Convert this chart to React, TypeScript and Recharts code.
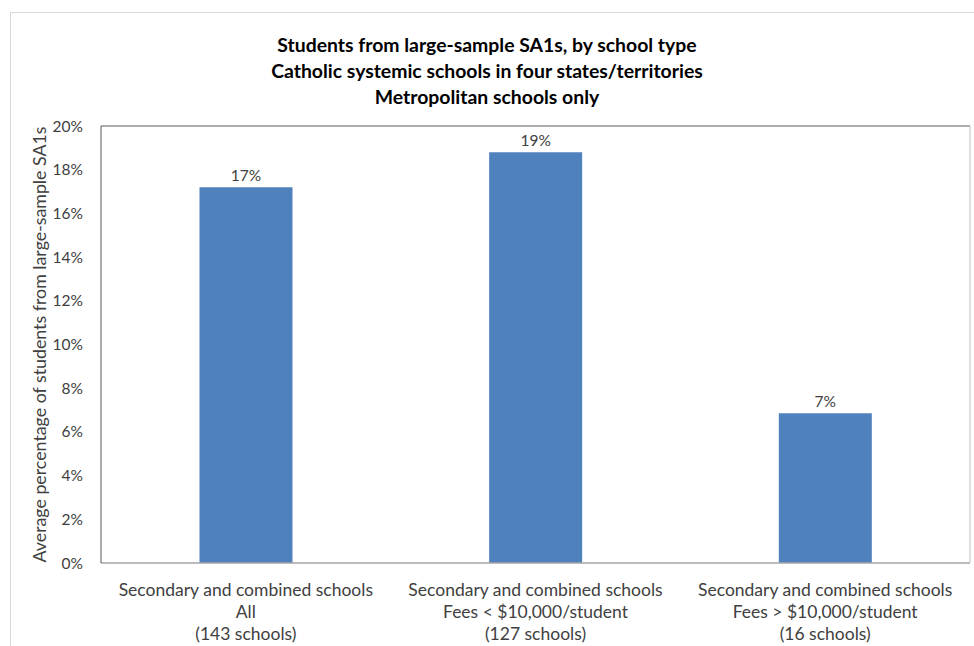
import { BarChart, Bar, XAxis, YAxis, LabelList, ReferenceLine } from 'recharts'

const titleLines = [
  'Students from large-sample SA1s, by school type',
  'Catholic systemic schools in four states/territories',
  'Metropolitan schools only',
]

const categories = [
  'Secondary and combined schools\nAll\n(143 schools)',
  'Secondary and combined schools\nFees < $10,000/student\n(127 schools)',
  'Secondary and combined schools\nFees > $10,000/student\n(16 schools)',
]

const shares = [17.2, 18.8, 6.85]

const yTicks = [0, 2, 4, 6, 8, 10, 12, 14, 16, 18, 20]

const yLabel = 'Average percentage of students from large-sample SA1s'

const data = categories.map((name, i) => ({ name, share: shares[i] }))

const FONT = 'Lato, "Open Sans", sans-serif'

function CategoryTick({ x, y, payload }: { x?: number; y?: number; payload?: { value: string } }) {
  const lines = String(payload?.value ?? '').split('\n')
  return (
    <text x={x} y={(y ?? 0) + 25} textAnchor="middle" fill="#404040" fontSize={17.5} fontFamily={FONT}>
      {lines.map((line, i) => (
        <tspan key={i} x={x} dy={i === 0 ? 0 : 22}>
          {line}
        </tspan>
      ))}
    </text>
  )
}

function AxisTitle({ viewBox }: { viewBox?: { x: number; y: number; width: number; height: number } }) {
  if (!viewBox) return null
  const cx = 39
  const cy = 126 + 437 / 2
  return (
    <text
      x={cx}
      y={cy}
      transform={`rotate(-90 ${cx} ${cy})`}
      textAnchor="middle"
      dominantBaseline="central"
      fill="#404040"
      fontSize={17.8}
      fontFamily={FONT}
    >
      {yLabel}
    </text>
  )
}

export default function App() {
  return (
    <div style={{ position: 'absolute', left: 0, top: 0, width: 974, height: 646, background: '#fff', overflow: 'hidden' }}>
      <div
        style={{
          position: 'absolute',
          left: 10,
          top: 12,
          width: 970,
          height: 660,
          border: '1px solid #d9d9d9',
        }}
      />
      <div
        style={{
          position: 'absolute',
          left: 0,
          width: 974,
          top: 32,
          textAlign: 'center',
          fontFamily: FONT,
          fontWeight: 700,
          fontSize: 19.4,
          lineHeight: '26px',
          color: '#000',
        }}
      >
        {titleLines.map((t) => (
          <div key={t}>{t}</div>
        ))}
      </div>
      <div style={{ position: 'absolute', left: 0, top: 0 }}>
        <BarChart
          width={974}
          height={646}
          data={data}
          margin={{ top: 126, right: 0, left: 0, bottom: 0 }}
          barCategoryGap="34%"
        >
          <XAxis
            dataKey="name"
            axisLine={{ stroke: '#a6a6a6', strokeWidth: 1.5 }}
            tickLine={false}
            interval={0}
            tick={<CategoryTick />}
            height={83}
          />
          <YAxis
            domain={[0, 20]}
            ticks={yTicks}
            width={101}
            interval={0}
            axisLine={{ stroke: '#595959' }}
            tickLine={false}
            tickMargin={12}
            tickFormatter={(v) => `${v}%`}
            tick={{ fill: '#404040', fontSize: 15.5, fontFamily: FONT }}
            label={<AxisTitle />}
          />
          <YAxis
            yAxisId="r"
            orientation="right"
            domain={[0, 20]}
            width={4}
            tick={false}
            tickLine={false}
            axisLine={{ stroke: '#bfbfbf' }}
          />
          <ReferenceLine y={20} stroke="#595959" />
          <Bar dataKey="share" fill="#4f81bd" isAnimationActive={false}>
            <LabelList
              dataKey="share"
              position="top"
              offset={6}
              formatter={(v: number) => `${Math.round(v)}%`}
              style={{ fill: '#404040', fontSize: 15.5, fontFamily: FONT }}
            />
          </Bar>
        </BarChart>
      </div>
    </div>
  )
}
